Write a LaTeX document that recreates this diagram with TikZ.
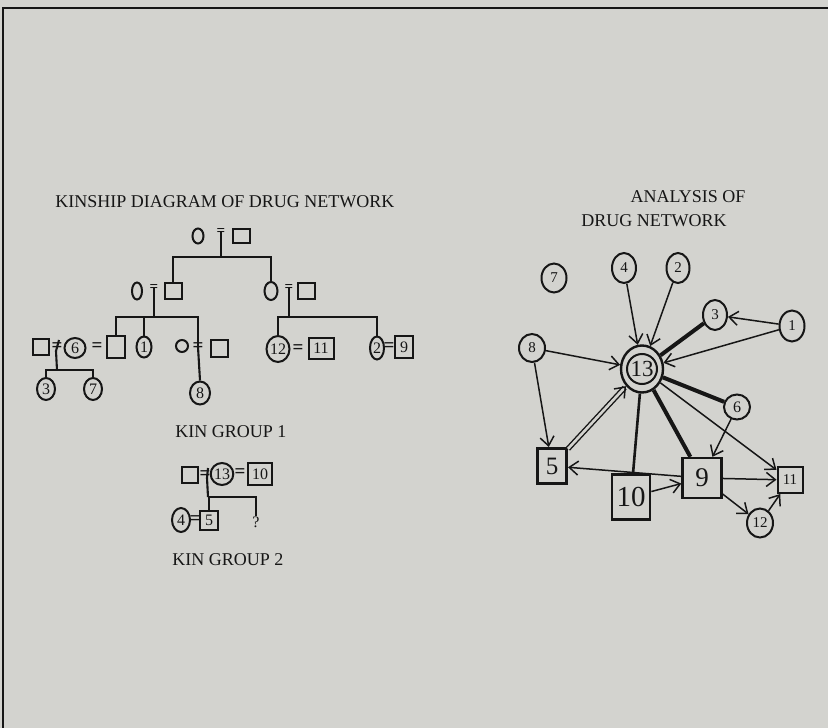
\documentclass[tikz,border=0pt]{standalone}
\usepackage{fontspec}
\setmainfont{Liberation Serif}
\usetikzlibrary{arrows.meta,shapes.geometric}
\definecolor{bg}{RGB}{211,211,207}
\definecolor{ink}{RGB}{22,22,22}
\begin{document}
\begin{tikzpicture}[x=1pt,y=-1pt,
 ln/.style={line width=2.1, draw=ink},
 fem/.style={ellipse, draw=ink, line width=2, inner sep=0pt, text=ink, font=\fontsize{16}{16}\selectfont},
 mal/.style={rectangle, draw=ink, line width=2, inner sep=0pt, text=ink, font=\fontsize{16}{16}\selectfont},
 eqs/.style={inner sep=0pt, text=ink, font=\bfseries\fontsize{19}{19}\selectfont},
 ttl/.style={inner sep=0pt, text=ink, font=\fontsize{18}{18}\selectfont},
 nc/.style={ellipse, draw=ink, line width=2, inner sep=0pt, text=ink, font=\fontsize{15}{15}\selectfont},
 ns/.style={rectangle, draw=ink, line width=2, inner sep=0pt, text=ink},
 arr/.style={-{Straight Barb[length=9pt,width=14pt,line width=1.5]}, line width=1.5, draw=ink},
 heavy/.style={line width=4, draw=ink}]
\fill[bg] (0,0) rectangle (828,728);
\useasboundingbox (0,0) rectangle (828,728);
\draw[line width=2.4, draw=ink] (828,8) -- (3,8) -- (3,728);

% ---------------- Kinship diagram ----------------
\node[ttl] (tk) at (225,202) {KINSHIP DIAGRAM OF DRUG NETWORK};

% generation 1
\node[fem, minimum width=11, minimum height=15] (f0) at (198,236) {};
\node[eqs, font=\bfseries\fontsize{15}{15}\selectfont] (e0) at (221,232) {=};
\node[mal, minimum width=17, minimum height=14] (m0) at (241,236) {};
\coordinate (j0) at (221,257);

% generation 2
\node[fem, minimum width=10, minimum height=17] (f1) at (137,291) {};
\node[eqs, font=\bfseries\fontsize{15}{15}\selectfont] (e1) at (154,288) {=};
\node[mal, minimum width=17, minimum height=16] (m1) at (173,291) {};
\node[fem, minimum width=13, minimum height=18] (f2) at (271,291) {};
\node[eqs, font=\bfseries\fontsize{15}{15}\selectfont] (e2) at (289,288) {=};
\node[mal, minimum width=17, minimum height=16] (m2) at (306,291) {};
\coordinate (j1) at (154,317);
\coordinate (j2) at (289,317);

% generation 3 left
\node[mal, minimum width=16, minimum height=16] (m3) at (41,347) {};
\node[eqs] (e3) at (57,347) {=};
\node[fem, minimum width=21, minimum height=20] (f6) at (75,348) {6};
\node[eqs] (e6) at (97,347) {=};
\node[mal, minimum width=18, minimum height=22] (m6) at (116,347) {};
\node[fem, minimum width=15, minimum height=21] (f1c) at (144,347) {1};
\node[fem, minimum width=12, minimum height=12] (fw) at (182,346) {};
\node[eqs] (e8) at (198,347) {=};
\node[mal, minimum width=17, minimum height=17] (m8) at (219,348) {};
\node[fem, minimum width=20, minimum height=23] (f8) at (200,393) {8};
\coordinate (j3) at (57,370);
\node[fem, minimum width=18, minimum height=22] (f3) at (46,389) {3};
\node[fem, minimum width=18, minimum height=22] (f7) at (93,389) {7};

% generation 3 right
\node[fem, minimum width=23, minimum height=26] (f12) at (278,349) {12};
\node[eqs] (e12) at (298,349) {=};
\node[mal, minimum width=25, minimum height=21] (m11) at (321,348) {11};
\node[fem, minimum width=14, minimum height=23] (f2c) at (377,348) {2};
\node[eqs] (e9) at (389,347) {=};
\node[mal, minimum width=18, minimum height=22] (m9) at (404,347) {9};

% lines
\draw[ln] (e0.center) -- (j0);
\draw[ln] (m1.north) |- (j0) -| (f2.north);
\draw[ln] (e1.center) -- (j1);
\draw[ln] (m6.north) |- (j1) -| (e8.center);
\draw[ln] (f1c.north) -- (f1c.north |- j1);
\draw[ln] (e8.center) -- (f8.north);
\draw[ln] (e2.center) -- (j2);
\draw[ln] (f12.north) |- (j2) -| (f2c.north);
\draw[ln] ([shift={(2,-7)}]e3.center) -- ([shift={(-1,4)}]e3.center) -- (j3);
\draw[ln] (f3.north) |- (j3) -| (f7.north);

\node[ttl] (kg1) at (231,432) {KIN GROUP 1};

% kin group 2
\node[mal, minimum width=16, minimum height=16] (m13) at (190,475) {};
\node[eqs] (e13) at (205,475) {=};
\node[fem, minimum width=20, minimum height=22] (f13) at (222,474) {13};
\node[eqs] (e10) at (240,473) {=};
\node[mal, minimum width=24, minimum height=22] (m10) at (260,474) {10};
\coordinate (j13) at (208,497);
\node[fem, minimum width=18, minimum height=24] (f4) at (181,520) {4};
\node[eqs] (e5) at (195,520) {=};
\node[mal, minimum width=18, minimum height=19] (m5) at (209,520) {5};
\node[inner sep=0pt, text=ink, font=\fontsize{16}{16}\selectfont] (qm) at (256,522) {?};
\draw[ln] ([shift={(3,-7)}]e13.center) -- ([shift={(2,3)}]e13.center) -- (j13);
\draw[ln] (m5.north) |- (j13) -| (qm.north);

\node[ttl] (kg2) at (228,560) {KIN GROUP 2};

% ---------------- Network ----------------
\node[ttl] (ta) at (688,197) {ANALYSIS OF};
\node[ttl] (tb) at (654,221) {DRUG NETWORK};

\node[nc, minimum width=25, minimum height=29] (n7) at (554,278) {7};
\node[nc, minimum width=24, minimum height=30] (n4) at (624,268) {4};
\node[nc, minimum width=23, minimum height=30] (n2) at (678,268) {2};
\node[nc, minimum width=24, minimum height=30] (n3) at (715,315) {3};
\node[nc, minimum width=25, minimum height=31] (n1) at (792,326) {1};
\node[nc, minimum width=26, minimum height=28] (n8) at (532,348) {8};
\node[ellipse, draw=ink, line width=2.4, inner sep=0pt, minimum width=42, minimum height=47] (n13) at (642,369) {};
\node[circle, draw=ink, line width=2, inner sep=0pt, minimum size=30, text=ink, font=\fontsize{23}{23}\selectfont] (n13i) at (n13.center) {13};
\node[nc, minimum width=26, minimum height=25, font=\fontsize{16}{16}\selectfont] (n6) at (737,407) {6};
\node[ns, line width=3, minimum width=29, minimum height=35, font=\fontsize{25}{25}\selectfont] (n5) at (552,466) {5};
\node[ns, line width=2.7, minimum width=38, minimum height=45, font=\fontsize{29}{29}\selectfont] (n10) at (631,497) {10};
\node[ns, line width=2.4, minimum width=39, minimum height=40, font=\fontsize{27}{27}\selectfont] (n9) at (702,478) {9};
\node[ns, minimum width=25, minimum height=26, font=\fontsize{15}{15}\selectfont] (n11) at (790,480) {11};
\node[nc, minimum width=26, minimum height=29] (n12) at (760,523) {12};

\draw[arr] (n4) -- (n13);
\draw[arr] (n2) -- (n13);
\draw[heavy] (n3) -- (n13);
\draw[arr] (n1) -- (n3);
\draw[arr] (n1) -- (n13);
\draw[arr] (n8) -- (n13);
\draw[arr] (n8) -- (n5);
\draw[arr, line width=1.4, double=bg, double distance=2.6] (n5) -- (n13);
\draw[line width=2.6, draw=ink] (n13) -- (n10);
\draw[heavy] (n13) -- (n9);
\draw[heavy] (n13) -- (n6);
\draw[arr] (n13) -- (n11);
\draw[arr] (n6) -- (n9);
\draw[arr] (n9) -- (n5);
\draw[arr] (n10) -- (n9);
\draw[arr] (n9) -- (n11);
\draw[arr] (n9) -- (n12);
\draw[arr] (n12) -- (n11);
\end{tikzpicture}
\end{document}
